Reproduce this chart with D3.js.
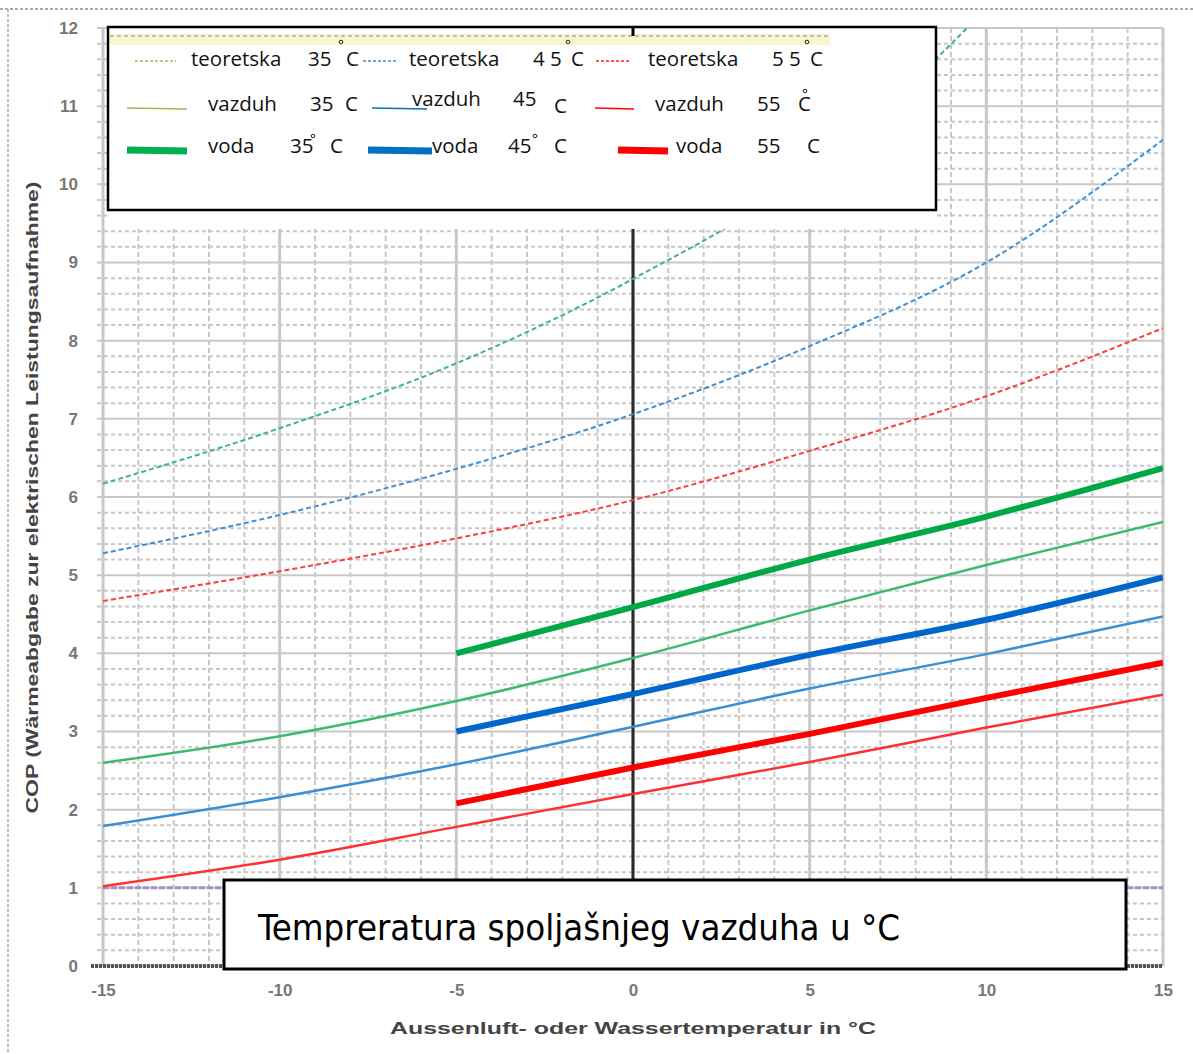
<!DOCTYPE html>
<html>
<head>
<meta charset="utf-8">
<title>COP dijagram</title>
<script src="https://cdnjs.cloudflare.com/ajax/libs/d3/7.8.5/d3.min.js"></script>
<style>
  body { margin: 0; background: #fff; }
  svg { display: block; }
</style>
</head>
<body>
<div id="chart"></div>
<script>
// x values (outside / water temperature, °C)
const temps = [-15, -10, -5, 0, 5, 10, 15];
const waterTemps = [-5, 0, 5, 10, 15];

// COP values
const teoretska35 = [6.17, 6.88, 7.71, 8.79, 10.15, 12.25, null];
const teoretska45 = [5.28, 5.77, 6.36, 7.06, 7.93, 9.0, 10.57];
const teoretska55 = [4.67, 5.05, 5.47, 5.96, 6.59, 7.29, 8.16];
const vazduh35 = [2.6, 2.94, 3.39, 3.94, 4.55, 5.13, 5.68];
const vazduh45 = [1.79, 2.16, 2.58, 3.06, 3.55, 3.99, 4.47];
const vazduh55 = [1.02, 1.36, 1.78, 2.2, 2.61, 3.05, 3.47];
const voda35 = [4.0, 4.59, 5.2, 5.75, 6.37];
const voda45 = [3.0, 3.48, 3.98, 4.43, 4.97];
const voda55 = [2.08, 2.54, 2.97, 3.43, 3.88];

const xTicks = [-15, -10, -5, 0, 5, 10, 15];
const yTicks = [0, 1, 2, 3, 4, 5, 6, 7, 8, 9, 10, 11, 12];

const yTitle = 'COP (Wärmeabgabe zur elektrischen Leistungsaufnahme)';
const xTitle = 'Aussenluft- oder Wassertemperatur in °C';
const boxTitle = 'Tempreratura spoljašnjeg vazduha u °C';

const series = [
  { name: 'teoretska', t: '35', xs: temps, ys: teoretska35, color: '#3cb878', legend: '#9bbb59', w: 2, dash: '5,3' },
  { name: 'teoretska', t: '4 5', xs: temps, ys: teoretska45, color: '#3d8fd4', legend: '#3d8fd4', w: 2, dash: '5,3' },
  { name: 'teoretska', t: '5 5', xs: temps, ys: teoretska55, color: '#ff3b3b', legend: '#ff2020', w: 2, dash: '5,3' },
  { name: 'vazduh', t: '35', xs: temps, ys: vazduh35, color: '#3cba70', legend: '#9bbb59', w: 2.5, dash: null },
  { name: 'vazduh', t: '45', xs: temps, ys: vazduh45, color: '#3a8ed3', legend: '#0070c0', w: 2.5, dash: null },
  { name: 'vazduh', t: '55', xs: temps, ys: vazduh55, color: '#ff3030', legend: '#ff0000', w: 2.5, dash: null },
  { name: 'voda', t: '35', xs: waterTemps, ys: voda35, color: '#00a846', legend: '#00b050', w: 6, dash: null },
  { name: 'voda', t: '45', xs: waterTemps, ys: voda45, color: '#0066cc', legend: '#0070c0', w: 6, dash: null },
  { name: 'voda', t: '55', xs: waterTemps, ys: voda55, color: '#ff0000', legend: '#ff0000', w: 6, dash: null }
];

const W = 1193, H = 1054;
const pLeft = 103, pRight = 1163, pTop = 28, pBottom = 966;

const svg = d3.select('#chart').append('svg')
  .attr('width', W).attr('height', H);

const x = d3.scaleLinear().domain([-15, 15]).range([pLeft, pRight]);
const y = d3.scaleLinear().domain([0, 12]).range([pBottom, pTop]);

// outer dotted frame (top and left)
svg.append('line').attr('x1', 0).attr('x2', W).attr('y1', 9).attr('y2', 9)
  .attr('stroke', '#aaa').attr('stroke-width', 2).attr('stroke-dasharray', '3,2');
svg.append('line').attr('x1', 8).attr('x2', 8).attr('y1', 9).attr('y2', H)
  .attr('stroke', '#bbb').attr('stroke-width', 2).attr('stroke-dasharray', '3,2');

// grid
const grid = svg.append('g');
d3.range(0, 12.001, 0.2).forEach(v => {
  const major = Math.abs(v - Math.round(v)) < 1e-6;
  grid.append('line')
    .attr('x1', pLeft - 6).attr('x2', pRight)
    .attr('y1', y(v)).attr('y2', y(v))
    .attr('stroke', '#c8c8c8').attr('stroke-width', 2)
    .attr('stroke-dasharray', major ? null : '4,3');
});
d3.range(-15, 15.001, 1).forEach(v => {
  const major = v % 5 === 0;
  grid.append('line')
    .attr('x1', x(v)).attr('x2', x(v))
    .attr('y1', pTop).attr('y2', pBottom)
    .attr('stroke', '#c8c8c8').attr('stroke-width', major ? 3 : 2)
    .attr('stroke-dasharray', major ? null : '5,3');
});

// x axis line
svg.append('line').attr('x1', pLeft - 12).attr('x2', pRight)
  .attr('y1', pBottom).attr('y2', pBottom)
  .attr('stroke', '#555').attr('stroke-width', 4).attr('stroke-dasharray', '3,1');

// purple line at COP = 1
svg.append('line').attr('x1', x(-15)).attr('x2', x(15))
  .attr('y1', y(1)).attr('y2', y(1))
  .attr('stroke', '#a88cc8').attr('stroke-width', 3).attr('stroke-dasharray', '6,2');

// black vertical at 0
svg.append('line').attr('x1', x(0)).attr('x2', x(0))
  .attr('y1', pTop).attr('y2', pBottom)
  .attr('stroke', '#2a2a2a').attr('stroke-width', 3);

// curves
svg.append('clipPath').attr('id', 'plot')
  .append('rect').attr('x', pLeft).attr('y', pTop).attr('width', pRight - pLeft).attr('height', pBottom - pTop);

const line = d3.line()
  .defined(d => d[1] != null)
  .x(d => x(d[0])).y(d => y(d[1]))
  .curve(d3.curveMonotoneX);

svg.append('g').attr('clip-path', 'url(#plot)')
  .selectAll('path').data(series).join('path')
  .attr('d', s => line(s.xs.map((t, i) => [t, s.ys[i]])))
  .attr('fill', 'none')
  .attr('stroke', s => s.color)
  .attr('stroke-width', s => s.w)
  .attr('stroke-dasharray', s => s.dash);

// axis tick labels
const xAxis = d3.axisBottom(x).tickValues(xTicks).tickFormat(d => String(d))
  .tickSize(0).tickPadding(18);
svg.append('g').attr('transform', `translate(0,${pBottom})`).call(xAxis)
  .call(g => g.select('.domain').remove())
  .selectAll('text')
  .attr('font-family', 'Liberation Sans, Arial, sans-serif')
  .attr('font-size', 17).attr('font-weight', 'bold').attr('fill', '#777');

const yAxis = d3.axisLeft(y).tickValues(yTicks).tickSize(0).tickPadding(25);
svg.append('g').attr('transform', `translate(${pLeft},0)`).call(yAxis)
  .call(g => g.select('.domain').remove())
  .selectAll('text')
  .attr('font-family', 'Liberation Sans, Arial, sans-serif')
  .attr('font-size', 17).attr('font-weight', 'bold').attr('fill', '#777');

// axis titles
svg.append('text')
  .attr('transform', `translate(38,${(180 + 815) / 2}) rotate(-90)`)
  .attr('text-anchor', 'middle')
  .attr('font-family', 'Liberation Sans, Arial, sans-serif')
  .attr('font-size', 16).attr('font-weight', 'bold').attr('fill', '#444')
  .attr('textLength', 632).attr('lengthAdjust', 'spacingAndGlyphs')
  .text(yTitle);

svg.append('text')
  .attr('x', x(0)).attr('y', 1034)
  .attr('text-anchor', 'middle')
  .attr('font-family', 'Liberation Sans, Arial, sans-serif')
  .attr('font-size', 17).attr('font-weight', 'bold').attr('fill', '#444')
  .attr('textLength', 486).attr('lengthAdjust', 'spacingAndGlyphs')
  .text(xTitle);

// legend box (with white band below it, where the grid is cut off)
const lg = svg.append('g');
lg.append('rect').attr('x', 107).attr('y', 209).attr('width', 830).attr('height', 20)
  .attr('fill', '#fff');
lg.append('rect').attr('x', 108).attr('y', 27).attr('width', 828).attr('height', 183)
  .attr('fill', '#fff').attr('stroke', '#000').attr('stroke-width', 2.5);
lg.append('rect').attr('x', 110).attr('y', 34).attr('width', 720).attr('height', 11)
  .attr('fill', '#f8f6cc');
lg.append('line').attr('x1', 110).attr('x2', 830).attr('y1', 36).attr('y2', 36)
  .attr('stroke', '#bbb').attr('stroke-width', 2).attr('stroke-dasharray', '4,3');
lg.append('line').attr('x1', x(0)).attr('x2', x(0)).attr('y1', 28).attr('y2', 36)
  .attr('stroke', '#000').attr('stroke-width', 3);

// legend layout: row y, swatch x ranges and text x positions per column
const rowY = [59, 104, 146];
const swatchX = [[[135, 176], [363, 398], [596, 631]],
                 [[127, 187], [372, 427], [595, 634]],
                 [[127, 187], [368, 432], [618, 668]]];
const nameX = [[191, 409, 648], [208, 412, 655], [208, 432, 676]];
const tempX = [[308, 533, 772], [310, 513, 757], [290, 508, 757]];
const cX = [[346, 571, 810], [345, 554, 798], [330, 554, 807]];
const nameDy = [[0, 0, 0], [0, -5, 0], [0, 0, 0]];
const tempDy = [[0, 0, 0], [0, -5, 0], [0, 0, 0]];
const degPos = [[[341, 42], [568, 42], [807, 42]],
                [null, null, [805, 91]],
                [[313, 136], [535, 136], null]];

series.forEach((s, i) => {
  const r = Math.floor(i / 3), c = i % 3;
  const yy = rowY[r];
  const sx = swatchX[r][c];
  lg.append('line')
    .attr('x1', sx[0]).attr('x2', sx[1])
    .attr('y1', yy + (r === 0 ? 2 : 4)).attr('y2', yy + (r === 0 ? 2 : 5))
    .attr('stroke', s.legend)
    .attr('stroke-width', r === 2 ? 7 : 1.5)
    .attr('stroke-dasharray', s.dash ? '3,2' : null);
  const txt = (str, tx, dy) => lg.append('text')
    .attr('x', tx).attr('y', yy + 7 + dy)
    .attr('font-family', 'Open Sans, Noto Sans, sans-serif')
    .attr('font-size', 20.5).attr('fill', '#111')
    .text(str);
  txt(s.name, nameX[r][c], nameDy[r][c]);
  txt(s.t, tempX[r][c], tempDy[r][c]);
  txt('C', cX[r][c], r === 1 && c === 1 ? 2 : 0);
  const dp = degPos[r][c];
  if (dp) {
    lg.append('circle').attr('cx', dp[0]).attr('cy', dp[1]).attr('r', 1.8)
      .attr('fill', 'none').attr('stroke', '#222').attr('stroke-width', 1);
  }
});

// bottom caption box
svg.append('rect').attr('x', 224).attr('y', 880).attr('width', 902).attr('height', 89)
  .attr('fill', '#fff').attr('stroke', '#000').attr('stroke-width', 3);
svg.append('text')
  .attr('x', 258).attr('y', 940)
  .attr('font-family', 'Liberation Sans Narrow, DejaVu Sans Condensed, Liberation Sans, sans-serif')
  .attr('font-size', 36).attr('fill', '#000')
  .attr('textLength', 642).attr('lengthAdjust', 'spacingAndGlyphs')
  .text(boxTitle);
</script>
</body>
</html>
